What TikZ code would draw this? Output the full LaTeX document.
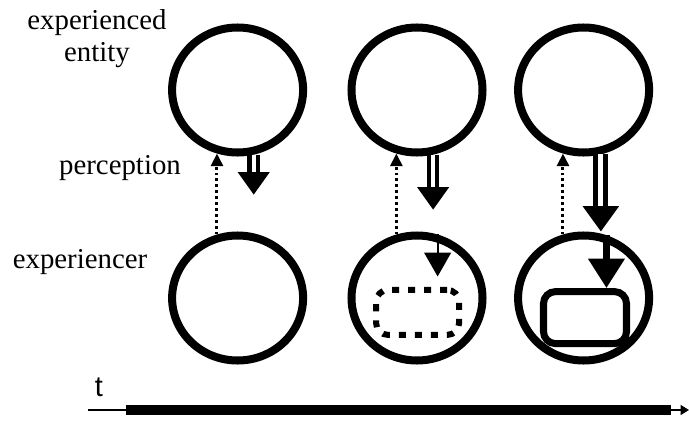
\documentclass[tikz,border=0pt]{standalone}
\usepackage{fontspec}
\setmainfont{Liberation Serif}
\newfontfamily\axisfont{Liberation Sans}
\usepackage{tikz}
\usetikzlibrary{shapes.geometric, arrows.meta, positioning, calc}
\tikzset{
  base/.style    = {draw=black, line width=5.7pt},
  orb/.style     = {base, ellipse, minimum width=3.275cm, minimum height=3.125cm, inner sep=0pt},
  tag/.style     = {align=center, inner sep=0pt},
  memo/.style    = {draw=black, line width=5pt, rounded corners=8.5pt,
                    minimum width=2.075cm, minimum height=1.3cm, inner sep=0pt},
  vague/.style   = {memo, line width=4.3pt, dash pattern=on 5pt off 6.4pt, minimum height=1.125cm},
  seen/.style    = {-{Triangle[length=9pt, width=8.5pt]}, line width=2.1pt,
                    dash pattern=on 2.1pt off 2.1pt},
  percept/.style = {-{Triangle[length=16pt, width=22pt]}, line width=3pt,
                    double=white, double distance=3pt},
  notice/.style  = {-{Triangle[length=17pt, width=19pt]}, line width=1.5pt},
  recall/.style  = {-{Triangle[length=21pt, width=25pt]}, line width=5pt},
  timeax/.style  = {-{Triangle[length=6pt, width=7pt]}, line width=1.4pt},
}

\begin{document}
\begin{tikzpicture}[font=\fontsize{20.5}{22.8}\selectfont]
  \useasboundingbox (0,0) rectangle (17.225,10.55);

  \node[tag] (ent)  at (2.425,9.58)  {experienced\\entity};
  \node[tag] (perc) at (3.0,6.35)    {perception};
  \node[tag] (exp)  at (2.0,4.0)     {experiencer};
  \node[tag,font=\axisfont\fontsize{20.5}{22.8}\selectfont] (tlab) at (2.475,0.875) {t};

  \node[orb] (e1) at (5.94,8.3)   {};
  \node[orb] (e2) at (10.425,8.3) {};
  \node[orb] (e3) at (14.59,8.3)  {};
  \node[orb] (p1) at (5.94,3.1)   {};
  \node[orb] (p2) at (10.425,3.1) {};
  \node[orb] (p3) at (14.59,3.1)  {};

  \node[vague] (r2) at (10.44,2.74)  {};
  \node[memo]  (r3) at (14.625,2.61) {};

  \foreach \i in {1,2,3}
    \draw[seen] (p\i.108) -- (e\i.252);

  \coordinate (h1) at ($(e1.284)+(0,-1)$);
  \coordinate (h2) at ($(e2.284)+(0,-1.375)$);
  \draw[percept] (e1.284) -- (h1);
  \draw[percept] (e2.284) -- (h2);
  \draw[percept, -{Triangle[length=18pt, width=25pt]}, line width=3.5pt, double distance=3.5pt]
    (e3.285) -- (e3.285 |- p3.north);

  \coordinate (m2) at ($(p2.72)+(0,-1.05)$);
  \draw[notice] (p2.72) -- (m2);
  \draw[recall] (p3.70) -- (p3.70 |- r3.north);

  \coordinate (t0) at (2.2,0.3);
  \coordinate (t1) at (17.225,0.3);
  \coordinate (b0) at (3.15,0.3);
  \coordinate (b1) at (16.775,0.3);
  \draw[timeax] (t0) -- (t1);
  \draw[line width=7pt] (b0) -- (b1);
\end{tikzpicture}
\end{document}
